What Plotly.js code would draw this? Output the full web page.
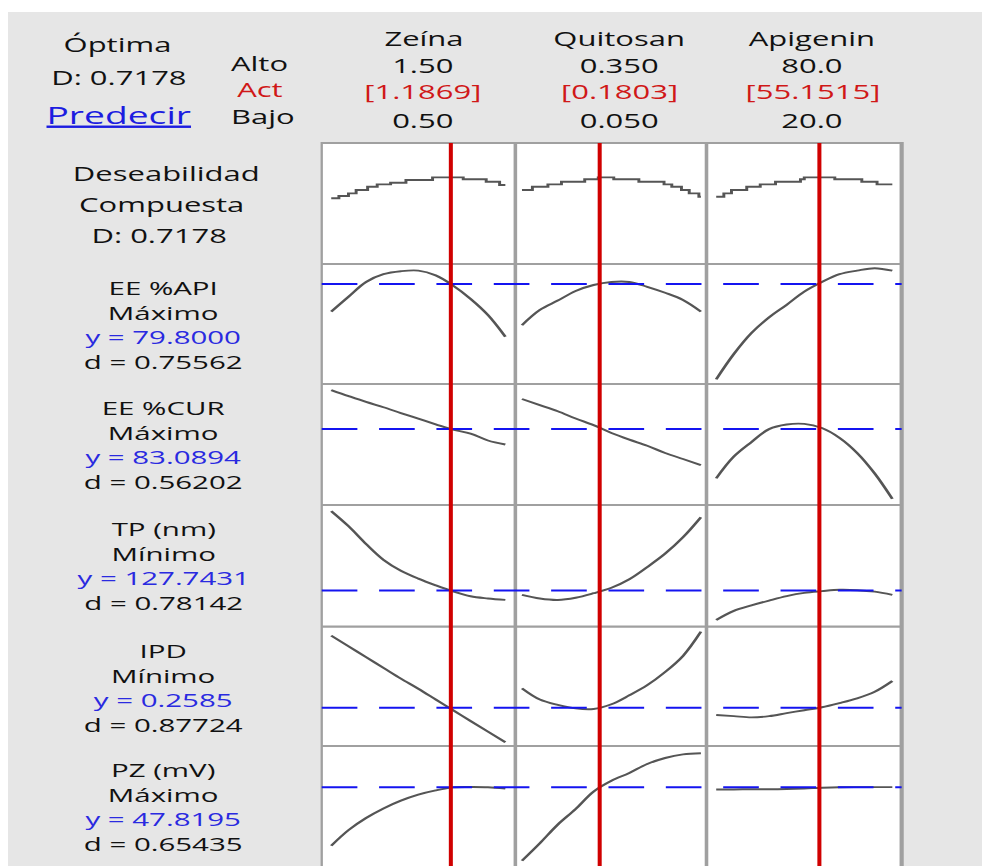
<!DOCTYPE html>
<html>
<head>
<meta charset="utf-8">
<script src="https://cdn.plot.ly/plotly-3.0.1.min.js"></script>
<style>
html,body{margin:0;padding:0;background:#ffffff;overflow:hidden;width:982px;height:866px}
#wrap{width:982px;height:866px;overflow:hidden;position:relative}
#chart{position:absolute;left:0;top:0;transform-origin:0 0}
</style>
</head>
<body>
<div id="wrap"><div id="chart"></div></div>
<script>
// ---------------- DATA ----------------
const factorNames = ['Zeína', 'Quitosan', 'Apigenin'];
const factorHighLabels = ['1.50', '0.350', '80.0'];
const factorLowLabels = ['0.50', '0.050', '20.0'];
const factorCurrentLabels = ['[1.1869]', '[0.1803]', '[55.1515]'];
const factorLow = [0.50, 0.050, 20.0];
const factorHigh = [1.50, 0.350, 80.0];
const factorCurrent = [1.1869, 0.1803, 55.1515];

const zeinaLevels = [0.5, 0.6, 0.7, 0.8, 0.9, 1.0, 1.1, 1.2, 1.3, 1.4, 1.5];
const quitosanLevels = [0.05, 0.08, 0.11, 0.14, 0.17, 0.20, 0.23, 0.26, 0.29, 0.32, 0.35];
const apigeninLevels = [20, 26, 32, 38, 44, 50, 56, 62, 68, 74, 80];

const compositeD = '0.7178';
const responseNames = ['EE %API', 'EE %CUR', 'TP (nm)', 'IPD', 'PZ (mV)'];
const responseGoals = ['Máximo', 'Máximo', 'Mínimo', 'Mínimo', 'Máximo'];
const responsePredicted = ['79.8000', '83.0894', '127.7431', '0.2585', '47.8195'];
const responseDesirability = ['0.75562', '0.56202', '0.78142', '0.87724', '0.65435'];
// current predicted response, as relative height inside its panel (0 = bottom, 1 = top)
const responseCurrentLevel = [0.833, 0.628, 0.297, 0.321, 0.656];

// composite desirability (stepped curves): factor levels where each step starts, and step value
const D_zeina_x     = [0.5, 0.544, 0.599, 0.643, 0.709, 0.764, 0.841, 0.929, 1.082, 1.258, 1.390, 1.467, 1.5];
const D_zeina       = [0.543, 0.562, 0.584, 0.612, 0.639, 0.658, 0.672, 0.694, 0.716, 0.700, 0.680, 0.653, 0.653];
const D_quitosan_x  = [0.05, 0.0675, 0.0935, 0.1162, 0.1552, 0.1779, 0.2039, 0.2460, 0.2882, 0.3012, 0.3174, 0.3304, 0.3466, 0.35];
const D_quitosan    = [0.612, 0.639, 0.658, 0.680, 0.700, 0.716, 0.700, 0.680, 0.658, 0.639, 0.612, 0.584, 0.556, 0.556];
const D_apigenin_x  = [20, 22.6, 25.2, 30.4, 35.0, 40.2, 48.7, 50.0, 60.4, 69.6, 74.8, 80];
const D_apigenin    = [0.556, 0.584, 0.612, 0.639, 0.658, 0.680, 0.700, 0.716, 0.700, 0.680, 0.658, 0.658];

// response curves (relative height inside each panel)
const API_zeina    = [0.603, 0.728, 0.850, 0.915, 0.940, 0.945, 0.905, 0.820, 0.710, 0.575, 0.394];
const API_quitosan = [0.490, 0.617, 0.695, 0.775, 0.825, 0.850, 0.850, 0.810, 0.760, 0.700, 0.603];
const API_apigenin = [0.039, 0.250, 0.425, 0.555, 0.660, 0.770, 0.850, 0.915, 0.945, 0.965, 0.944];

const CUR_zeina    = [0.950, 0.900, 0.852, 0.808, 0.760, 0.714, 0.667, 0.622, 0.590, 0.533, 0.500];
const CUR_quitosan = [0.876, 0.826, 0.775, 0.715, 0.660, 0.595, 0.540, 0.490, 0.430, 0.380, 0.330];
const CUR_apigenin = [0.220, 0.400, 0.520, 0.627, 0.665, 0.670, 0.636, 0.555, 0.430, 0.260, 0.050];

const TP_zeina    = [0.950, 0.825, 0.680, 0.550, 0.460, 0.395, 0.340, 0.290, 0.250, 0.232, 0.220];
const TP_quitosan = [0.262, 0.232, 0.220, 0.238, 0.275, 0.320, 0.390, 0.490, 0.600, 0.735, 0.900];
const TP_apigenin = [0.055, 0.130, 0.175, 0.215, 0.252, 0.278, 0.292, 0.303, 0.300, 0.288, 0.262];

const IPD_zeina    = [0.925, 0.835, 0.745, 0.655, 0.565, 0.480, 0.390, 0.300, 0.210, 0.120, 0.031];
const IPD_quitosan = [0.484, 0.390, 0.345, 0.315, 0.310, 0.350, 0.425, 0.510, 0.620, 0.755, 0.958];
const IPD_apigenin = [0.260, 0.250, 0.240, 0.250, 0.275, 0.300, 0.325, 0.360, 0.400, 0.455, 0.545];

const PZ_zeina    = [0.169, 0.300, 0.400, 0.480, 0.545, 0.595, 0.630, 0.655, 0.658, 0.656, 0.645];
const PZ_quitosan = [0.044, 0.190, 0.345, 0.475, 0.620, 0.710, 0.775, 0.850, 0.900, 0.930, 0.940];
const PZ_apigenin = [0.638, 0.638, 0.640, 0.640, 0.642, 0.646, 0.652, 0.656, 0.657, 0.657, 0.657];

// ---------------- LAYOUT ----------------
const S = 1.55;              // horizontal stretch of the original screenshot
const WF = 982, HF = 866;    // final picture size
const W0 = WF / S;
const chartDiv = document.getElementById('chart');
chartDiv.style.width = W0 + 'px';
chartDiv.style.height = HF + 'px';
chartDiv.style.transform = 'scaleX(' + S + ')';

const FONT = 'Open Sans, Noto Sans, sans-serif';
const colX = [321.5, 515, 706, 901];
const rowY = [143, 264, 384, 505, 626.7, 746, 866];
const curveStart = [331, 521.6, 715.7];
const curveEnd = [505, 700.4, 891.7];
const px = x => x / WF;
const py = y => 1 - y / HF;

const levels = [zeinaLevels, quitosanLevels, apigeninLevels];
const curveX = [
  [D_zeina_x, D_quitosan_x, D_apigenin_x],
  levels, levels, levels, levels, levels
];
const curves = [
  [D_zeina, D_quitosan, D_apigenin],
  [API_zeina, API_quitosan, API_apigenin],
  [CUR_zeina, CUR_quitosan, CUR_apigenin],
  [TP_zeina, TP_quitosan, TP_apigenin],
  [IPD_zeina, IPD_quitosan, IPD_apigenin],
  [PZ_zeina, PZ_quitosan, PZ_apigenin]
];

const traces = [];
const layout = {
  width: W0, height: HF, autosize: false,
  margin: {l: 0, r: 0, t: 0, b: 0, pad: 0},
  paper_bgcolor: '#ffffff', plot_bgcolor: 'rgba(0,0,0,0)',
  showlegend: false,
  font: {family: FONT, size: 20, color: '#111111'},
  shapes: [], annotations: []
};

function axName(i, letter) { return i === 1 ? letter : letter + i; }

for (let r = 0; r < 6; r++) {
  for (let c = 0; c < 3; c++) {
    const i = r * 3 + c + 1;
    const xa = axName(i, 'x'), ya = axName(i, 'y');
    const unit = (curveEnd[c] - curveStart[c]) / (factorHigh[c] - factorLow[c]);
    const lo = factorLow[c] - (curveStart[c] - colX[c]) / unit;
    const hi = factorHigh[c] + (colX[c + 1] - curveEnd[c]) / unit;
    layout[xa.replace('x', 'xaxis')] = {
      domain: [px(colX[c]), px(colX[c + 1])], range: [lo, hi], anchor: ya,
      visible: false, fixedrange: true
    };
    layout[ya.replace('y', 'yaxis')] = {
      domain: [py(rowY[r + 1]), py(rowY[r])], range: [0, 1], anchor: xa,
      visible: false, fixedrange: true
    };
    traces.push({
      type: 'scatter', mode: 'lines', x: curveX[r][c], y: curves[r][c],
      xaxis: xa, yaxis: ya, hoverinfo: 'skip', cliponaxis: false,
      line: {color: '#555555', width: 1.9, shape: r === 0 ? 'hv' : 'spline', smoothing: 1}
    });
  }
}

// background + panels
layout.shapes.push({type: 'rect', xref: 'paper', yref: 'paper', x0: px(8), x1: 1, y0: 0, y1: py(12),
  fillcolor: '#e6e6e6', line: {width: 0}, layer: 'below'});
layout.shapes.push({type: 'rect', xref: 'paper', yref: 'paper', x0: px(colX[0]), x1: px(colX[3]), y0: 0, y1: py(rowY[0]),
  fillcolor: '#ffffff', line: {width: 0}, layer: 'below'});
const vWidths = [1.5, 2.3, 2.3, 2.7];
colX.forEach((x, k) => layout.shapes.push({type: 'line', xref: 'paper', yref: 'paper',
  x0: px(x), x1: px(x), y0: 0, y1: py(rowY[0] - 1), line: {color: '#a0a0a0', width: vWidths[k]}, layer: 'below'}));
rowY.slice(0, 6).forEach(y => layout.shapes.push({type: 'line', xref: 'paper', yref: 'paper',
  x0: px(colX[0]), x1: px(colX[3]), y0: py(y), y1: py(y), line: {color: '#a0a0a0', width: 2.2}, layer: 'below'}));

// blue dashed current response lines
responseCurrentLevel.forEach((v, k) => {
  const i = (k + 1) * 3 + 1;
  layout.shapes.push({type: 'line', xref: 'paper', yref: axName(i, 'y'),
    x0: px(colX[0]), x1: px(colX[3]), y0: v, y1: v,
    line: {color: '#1414f0', width: 2, dash: '23px,14px'}, layer: 'above'});
});
// red current factor lines
factorCurrent.forEach((v, c) => {
  layout.shapes.push({type: 'line', xref: axName(c + 1, 'x'), yref: 'paper',
    x0: v, x1: v, y0: 0, y1: py(rowY[0]),
    line: {color: '#d00000', width: 2.6}, layer: 'above'});
});

function ann(text, x, y, color, size) {
  layout.annotations.push({text: text, x: px(x), y: py(y), xref: 'paper', yref: 'paper',
    xanchor: 'center', yanchor: 'middle', showarrow: false, align: 'center',
    font: {family: FONT, size: size || 20, color: color || '#111111'}});
}
const BLUE = '#2a2ae0', RED = '#d01818';
// header
ann('Óptima', 117, 45);
ann('D: 0.7178', 119, 77);
ann('<u>Predecir</u>', 119, 114, '#1c1ce0', 24);
ann('Alto', 259, 63);
ann('Act', 259, 90, RED);
ann('Bajo', 262, 116);
const headX = [423, 619, 812];
for (let c = 0; c < 3; c++) {
  ann(factorNames[c], headX[c], 39);
  ann(factorHighLabels[c], headX[c], 65);
  ann(factorCurrentLabels[c], headX[c], 91, RED);
  ann(factorLowLabels[c], headX[c], 120);
}
// left labels
const LX = 162;
ann('Deseabilidad', LX + 4, rowY[0] + 30);
ann('Compuesta', LX, rowY[0] + 61);
ann('D: ' + compositeD, LX - 4, rowY[0] + 92);
for (let k = 0; k < 5; k++) {
  const top = rowY[k + 1];
  const block = responseNames[k] + '<br>' + responseGoals[k] +
    '<br><span style="color:' + BLUE + '">y = ' + responsePredicted[k] + '</span>' +
    '<br>d = ' + responseDesirability[k];
  ann(block, LX + 1, top + 61, '#111111', 19);
}

Plotly.newPlot(chartDiv, traces, layout, {staticPlot: true, displayModeBar: false});
</script>
</body>
</html>
